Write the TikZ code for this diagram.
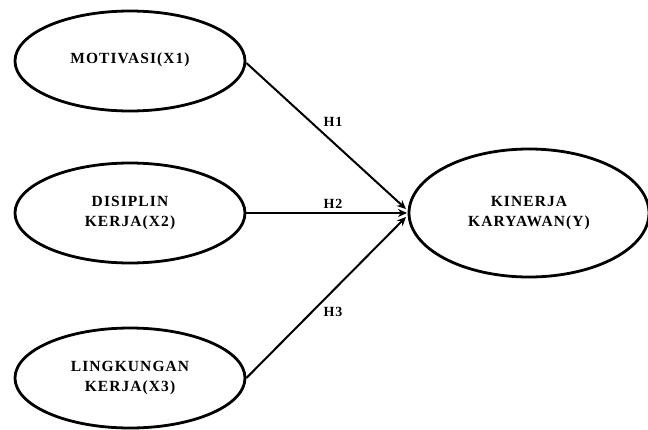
\documentclass[tikz,border=0pt]{standalone}
\usepackage{fontspec}
\setmainfont{Liberation Serif}[LetterSpace=7]
\usetikzlibrary{arrows.meta,shapes.geometric}
\begin{document}
\begin{tikzpicture}[x=1pt,y=-1pt,
  latent/.style={draw,line width=2.8pt,ellipse,minimum width=230pt,minimum height=100pt,inner sep=0pt,
    font=\bfseries\fontsize{15.5}{20}\selectfont,align=center},
  conn/.style={line width=2pt,-{Stealth[length=9pt,width=8pt]}},
  hlab/.style={font=\bfseries\fontsize{14}{16}\selectfont}]
\useasboundingbox (0,0) rectangle (648,429);
\node[latent] (x1) at (130,61) {\raisebox{5pt}{MOTIVASI(X1)}};
\node[latent] (x2) at (130,213) {DISIPLIN\\KERJA(X2)};
\node[latent] (x3) at (130,378) {LINGKUNGAN\\KERJA(X3)};
\node[latent,minimum width=240pt,minimum height=128pt] (y) at (529,213) {KINERJA\\KARYAWAN(Y)};
\coordinate (t1) at (406,209);
\coordinate (t2) at (407,213);
\coordinate (t3) at (406,217);
\draw[conn] (x1.east) ++(0,2) -- (t1);
\draw[conn] (x2.east) -- (t2);
\draw[conn] (x3.east) -- (t3);
\node[hlab] (h1) at (333,122) {H1};
\node[hlab] (h2) at (333,204) {H2};
\node[hlab] (h3) at (333,312) {H3};
\end{tikzpicture}
\end{document}
